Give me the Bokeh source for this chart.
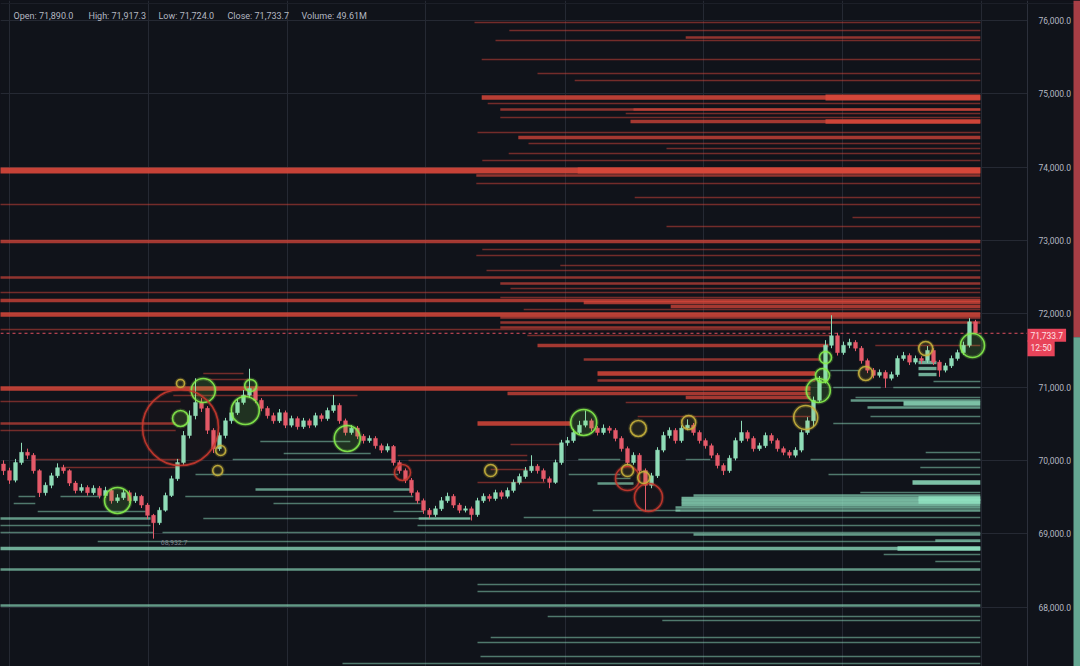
from bokeh.plotting import figure
from bokeh.models import (Range1d, FixedTicker, NumeralTickFormatter, Span, Label,
                          ColumnDataSource, BoxAnnotation, LinearAxis, Grid)
from bokeh.embed import file_html
from bokeh.resources import INLINE

# ---------------- data ----------------
first_open = 69950
closes = [69860, 69730, 69970, 70110, 70070, 69860, 69560, 69660, 69790, 69900,
          69860, 69690, 69590, 69630, 69560, 69620, 69520, 69590, 69450, 69490,
          69560, 69450, 69510, 69390, 69250, 69150, 69320, 69520, 69750, 69970,
          70340, 70610, 70790, 70710, 70410, 70160, 70340, 70540, 70650, 70790,
          70890, 70980, 70820, 70710, 70610, 70540, 70650, 70480, 70570, 70460,
          70540, 70480, 70610, 70570, 70680, 70750, 70540, 70380, 70440, 70330,
          70270, 70300, 70200, 70140, 70190, 69970, 69860, 69730, 69560, 69450,
          69320, 69260, 69340, 69450, 69510, 69390, 69320, 69340, 69260, 69450,
          69510, 69480, 69560, 69510, 69590, 69700, 69780, 69860, 69920, 69860,
          69750, 69700, 69970, 70240, 70270, 70380, 70480, 70540, 70440, 70380,
          70440, 70410, 70300, 70160, 69970, 70070, 69860, 69660, 69790, 70140,
          70340, 70410, 70270, 70440, 70480, 70380, 70270, 70200, 70070, 69930,
          69860, 70030, 70270, 70380, 70300, 70160, 70200, 70340, 70270, 70160,
          70110, 70070, 70140, 70380, 70540, 70820, 71090, 71570, 71700, 71470,
          71570, 71610, 71530, 71360, 71230, 71160, 71200, 71120, 71170, 71390,
          71430, 71340, 71390, 71360, 71500, 71340, 71230, 71290, 71390, 71470,
          71570, 71890, 71733.7]
highs = [70000, 69900, 70020, 70240, 70160, 70100, 69880, 69700, 69830, 69960,
         69940, 69880, 69720, 69680, 69660, 69660, 69650, 69640, 69610, 69540,
         69600, 69590, 69560, 69530, 69420, 69270, 69360, 69560, 69790, 70020,
         70400, 70680, 71120, 70850, 70740, 70440, 70380, 70580, 70700, 70840,
         70960, 71250, 71020, 70850, 70740, 70650, 70700, 70680, 70610, 70600,
         70580, 70570, 70650, 70640, 70720, 70890, 70780, 70570, 70480, 70470,
         70360, 70340, 70330, 70230, 70230, 70210, 70000, 69890, 69760, 69590,
         69480, 69350, 69380, 69500, 69560, 69540, 69420, 69380, 69370, 69490,
         69550, 69540, 69600, 69590, 69630, 69740, 69820, 69910, 70070, 69950,
         69890, 69780, 70010, 70280, 70320, 70430, 70540, 70680, 70570, 70470,
         70490, 70470, 70440, 70330, 70190, 70110, 70100, 69890, 69830, 70180,
         70390, 70450, 70440, 70480, 70560, 70510, 70410, 70300, 70230, 70100,
         69960, 70070, 70310, 70540, 70410, 70330, 70240, 70380, 70370, 70300,
         70190, 70140, 70180, 70420, 70590, 70870, 71150, 71640, 71980, 71740,
         71620, 71660, 71640, 71560, 71390, 71260, 71240, 71230, 71210, 71430,
         71480, 71460, 71430, 71420, 71560, 71530, 71370, 71330, 71430, 71510,
         71620, 71940, 71917.3]
lows = [69800, 69680, 69700, 69940, 70020, 69820, 69500, 69520, 69620, 69760,
        69820, 69650, 69550, 69560, 69520, 69530, 69480, 69490, 69410, 69420,
        69460, 69420, 69420, 69350, 69200, 68932.7, 69120, 69300, 69500, 69720,
        69940, 70300, 70560, 70660, 70360, 70100, 70130, 70300, 70500, 70620,
        70760, 70850, 70780, 70670, 70570, 70500, 70510, 70440, 70450, 70420,
        70430, 70440, 70450, 70530, 70540, 70650, 70500, 70340, 70350, 70290,
        70230, 70240, 70160, 70100, 70110, 69930, 69820, 69690, 69520, 69410,
        69270, 69210, 69230, 69310, 69420, 69350, 69280, 69290, 69180, 69230,
        69420, 69440, 69450, 69470, 69480, 69560, 69670, 69750, 69830, 69820,
        69710, 69620, 69680, 69940, 70200, 70240, 70350, 70450, 70400, 70340,
        70350, 70370, 70260, 70120, 69930, 69940, 69820, 69300, 69620, 69760,
        70110, 70300, 70230, 70240, 70410, 70340, 70230, 70160, 70030, 69890,
        69800, 69830, 70000, 70240, 70260, 70120, 70130, 70170, 70230, 70120,
        70070, 70030, 70040, 70110, 70350, 70460, 70790, 71050, 71530, 71430,
        71440, 71530, 71490, 71320, 71190, 71120, 71130, 70990, 71090, 71140,
        71360, 71300, 71310, 71320, 71330, 71300, 71140, 71200, 71260, 71360,
        71440, 71540, 71724.0]

# liquidation levels above price (red): price, start bar, end bar, heat 1-5
red_price = [75973, 75864, 75768, 75727, 75468, 75277, 75182, 74950, 74868, 74786,
             74732, 74677, 74622, 74472, 74404, 74322, 74254, 74186, 74090, 73954,
             73886, 73777, 73586, 73490, 73313, 73190, 72986, 72876, 72795, 72658,
             72590, 72495, 72413, 72345, 72290, 72222, 72181, 72153, 72099, 72058,
             71990, 71949, 71881, 71813, 71785, 71703, 71567, 71567, 71376, 71185,
             71090, 70980, 70912, 70858, 70790, 70599, 70503, 70217, 70067, 69999,
             69876, 69698, 71185, 71103, 70885, 70803, 70503, 70408, 70012, 69903,
             74950, 74622, 73954, 74786]
red_start = [78.5, 84.3, 113.7, 82.0, 79.7, 89.0, 95.2, 79.7, 80.7, 82.8,
             103.7, 82.8, 104.5, 79.0, 85.8, 87.5, 110.5, 84.2, 79.8, -1,
             78.8, 78.8, 105.2, -1, 141.5, 110.5, -1, 79.8, 78.8, 92.8,
             80.5, -1, 82.8, 84.5, -1, 82.8, -1, 96.7, 111.2, 86.7,
             -1, 82.8, 82.8, 82.8, -1, 87.3, 89.0, 145.3, 96.7, 99.0,
             99.0, -1, 84.0, 113.7, 103.7, 105.7, 79.0, 84.5, 65.7, 67.5,
             81.2, 79.0, 33.3, 33.7, 28.3, -1, -1, -1, 5.3, 9.5,
             137.0, 137.0, 95.7, 105.0]
red_end = [162.8] * 43 + [137.8, 137.8, 137.8, 137.5, 162.8, 136.2, 135.3,
           135.3, 134.5, 134.5, 134.5, 134.5, 134.5, 94.5, 92.8, 87.3, 87.3,
           87.3, 90.3, 40.0, 41.2, 59.0, 29.5, 28.7, 28.7, 29.5, 28.7,
           162.8, 162.8, 162.8, 162.8]
red_heat = [1, 1, 2, 1, 1, 1, 1, 4, 1, 2,
            1, 1, 3, 1, 3, 1, 1, 1, 1, 5,
            2, 1, 1, 1, 1, 1, 3, 1, 1, 1,
            1, 2, 2, 1, 1, 1, 3, 3, 3, 1,
            4, 2, 2, 2, 1, 1, 3, 1, 2, 4,
            2, 4, 3, 3, 1, 1, 4, 1, 1, 1,
            1, 1, 1, 1, 1, 1, 2, 1, 1, 1,
            5, 4, 5, 2]

# liquidation levels below price (green)
green_price = [69507, 69507, 69412, 69303, 69207, 69112, 69016, 69016, 68894, 68798,
               68512, 68021, 70258, 70094, 70012, 69807, 69603, 69507, 69412, 69303,
               69207, 69207, 69221, 69112, 68989, 68907, 68798, 68716, 68621, 68307,
               68212, 67871, 67816, 67584, 67516, 67325, 70108, 70012, 70012, 70012,
               69903, 69807, 69807, 69753, 69698, 69685, 69562, 69521, 69480, 69439,
               69398, 69357, 69316, 69480, 69439, 69316, 71226, 70994, 70994, 70858,
               70817, 70776, 70721, 70599, 70503, 71335, 71253, 71171, 71076, 67229]
green_start = [2.5, 9.5, 1.7, 5.7, -1, -1, -1, 26.5, 15.7, -1,
               -1, -1, 42.8, 46.7, 38.2, 32.0, 42.0, 30.3, 45.0, 65.0,
               33.3, 69.2, 86.7, 69.0, 115.0, 155.3, 149.0, 146.7, 155.3, 79.0,
               79.0, 90.7, 109.8, 81.2, 79.0, 79.5, 153.7, 134.5, 95.8, 113.7,
               152.8, 137.5, 94.2, 102.0, 151.5, 99.0, 142.8, 115.0, 113.0, 113.0,
               113.0, 112.0, 112.0, 152.5, 152.5, 98.2, 137.8, 138.3, 148.3, 142.0,
               141.2, 150.0, 144.0, 144.5, 138.3, 152.5, 152.5, 152.5, 155.0, 56.5]
green_end = [5.3, 16.2, 5.3, 23.7, 24.5, 24.5, 25.0, 162.8, 162.8, 162.8,
             162.8, 162.8, 57.8, 61.2, 65.0, 65.8, 68.3, 68.3, 69.5, 70.0,
             77.8, 77.8, 162.8, 162.8, 162.8, 162.8, 162.8, 162.8, 162.8, 162.8,
             162.8, 162.8, 162.8, 162.8, 162.8, 162.8, 162.8, 162.8, 102.8, 117.8,
             162.8, 162.8, 102.8, 104.5, 162.8, 105.0, 162.8, 162.8, 162.8, 162.8,
             162.8, 162.8, 162.8, 162.8, 162.8, 112.8, 142.8, 146.2, 162.8, 162.8,
             162.8, 162.8, 162.8, 162.8, 162.8, 155.5, 155.5, 155.5, 162.8, 162.8]
green_heat = [1, 1, 1, 1, 2, 1, 1, 1, 1, 3,
              2, 2, 1, 1, 1, 1, 2, 1, 1, 1,
              1, 2, 1, 1, 2, 2, 4, 1, 1, 1,
              1, 1, 1, 1, 1, 1, 1, 1, 1, 1,
              1, 1, 1, 1, 4, 2, 1, 2, 3, 3,
              3, 2, 2, 4, 4, 1, 1, 1, 1, 1,
              2, 4, 2, 1, 1, 3, 3, 3, 1, 1]

# liquidation bubbles: bar, price, bubble size, kind
bubble_bar = [19, 29.5, 33.3, 29.5, 40.3, 41.2, 57.3, 29.5, 36.2, 35.7,
              96.7, 105.8, 114.2, 104, 104, 107.5, 106.7, 66.5, 81.2, 133.7,
              135.8, 136.5, 137, 143.7, 153.7, 161.5]
bubble_price = [69453, 70571, 70953, 71049, 70680, 71021, 70299, 70449, 70135, 69862,
                70517, 70435, 70517, 69753, 69862, 69494, 69767, 69835, 69862, 70585,
                70953, 71158, 71404, 71185, 71526, 71567]
bubble_size = [13, 8, 12, 4, 14, 6, 13, 38, 5, 5,
               13, 8, 7, 12, 6, 14, 6, 8, 6, 12,
               12, 7, 6, 7, 7, 12]
bubble_kind = ["g", "g", "g", "y", "g", "g", "g", "r", "y", "y",
               "g", "y", "y", "r", "y", "r", "y", "r", "y", "y",
               "g", "g", "g", "y", "y", "g"]

price_ticks = [68000, 69000, 70000, 71000, 72000, 73000, 74000, 75000, 76000]
time_ticks = [1.0, 24.2, 47.3, 70.3, 93.7, 116.7, 139.8, 163.0]
last_price = 71733.7
book_split = 71680
header = [("Open: 71,890.0", 13), ("High: 71,917.3", 88), ("Low: 71,724.0", 158),
          ("Close: 71,733.7", 227), ("Volume: 49.61M", 301)]

# ---------------- figure ----------------
BG = "#10131a"
GRID = "#252933"
FONT = "Roboto"
X_LEFT, X_SCALE_EDGE, X_RIGHT = -0.5, 170.67, 179.5
Y_LO, Y_HI = 67188.6, 76272.8

p = figure(width=1080, height=666,
           x_range=Range1d(X_LEFT, X_RIGHT), y_range=Range1d(Y_LO, Y_HI),
           output_backend="svg", toolbar_location=None,
           x_axis_location=None, y_axis_location=None,
           min_border=0, background_fill_color=BG, border_fill_color=BG,
           outline_line_color=None)
for g in p.grid:
    g.visible = False

p.add_layout(Grid(dimension=0, ticker=FixedTicker(ticks=time_ticks), grid_line_color=GRID))
p.add_layout(Grid(dimension=1, ticker=FixedTicker(ticks=price_ticks), grid_line_color=GRID))

# price scale panel (covers grid, sits under the axis)
p.add_layout(BoxAnnotation(left=X_SCALE_EDGE, right=X_RIGHT, fill_color=BG, fill_alpha=1,
                           line_color=None, level="glyph"))

yaxis = LinearAxis(fixed_location=X_SCALE_EDGE, ticker=FixedTicker(ticks=price_ticks),
                   formatter=NumeralTickFormatter(format="0,0.0"))
yaxis.major_label_text_color = "#b4b8c2"
yaxis.major_label_text_font = FONT
yaxis.major_label_text_font_size = "8.5px"
yaxis.major_tick_line_color = None
yaxis.minor_tick_line_color = None
yaxis.axis_line_color = "#2c303b"
yaxis.major_label_standoff = 5
p.add_layout(yaxis, "right")

# header pane border
p.add_layout(Span(location=76232, dimension="width", line_color="#1d2029", line_width=1))

def w_of(h):
    return {1: 1.4, 2: 2.4, 3: 3.4, 4: 4.4, 5: 6.0}[h]

def a_of(h):
    return {1: 0.5, 2: 0.65, 3: 0.75, 4: 0.85, 5: 0.92}[h]

red_src = ColumnDataSource(dict(x0=red_start, x1=red_end, y=red_price,
                                w=[w_of(h) for h in red_heat], a=[a_of(h) for h in red_heat]))
p.segment(x0="x0", x1="x1", y0="y", y1="y", source=red_src, line_color="#d6463a",
          line_width="w", line_alpha="a")

green_src = ColumnDataSource(dict(x0=green_start, x1=green_end, y=green_price,
                                  w=[w_of(h) for h in green_heat], a=[a_of(h) for h in green_heat]))
p.segment(x0="x0", x1="x1", y0="y", y1="y", source=green_src, line_color="#8fe0c0",
          line_width="w", line_alpha="a")

# current price line
p.segment(x0=[X_LEFT], x1=[X_SCALE_EDGE], y0=[last_price], y1=[last_price],
          line_color="#e0505e", line_dash="3 3", line_width=1)

# candles
opens = [first_open] + closes[:-1]
idx = list(range(len(closes)))
ccol = ["#8fdcb8" if c >= o else "#e55a6a" for o, c in zip(opens, closes)]
csrc = ColumnDataSource(dict(x=idx, o=opens, c=closes, h=highs, l=lows,
                             top=[max(o, c) for o, c in zip(opens, closes)],
                             bot=[min(o, c) for o, c in zip(opens, closes)], col=ccol))
p.segment(x0="x", x1="x", y0="l", y1="h", source=csrc, line_color="col", line_width=1)
p.vbar(x="x", width=0.62, top="top", bottom="bot", source=csrc, fill_color="col",
       line_color="col", line_width=0.5)

# bubbles
kcol = {"g": "#86ee4c", "y": "#c8b23c", "r": "#c8392e"}
kfill = {"g": 0.14, "y": 0.1, "r": 0.03}
bsrc = ColumnDataSource(dict(x=bubble_bar, y=bubble_price, s=[2 * b for b in bubble_size],
                             col=[kcol[k] for k in bubble_kind],
                             fa=[kfill[k] for k in bubble_kind]))
p.scatter(x="x", y="y", size="s", source=bsrc, marker="circle", fill_color="col",
          fill_alpha="fa", line_color="col", line_width=4, line_alpha=0.22)
p.scatter(x="x", y="y", size="s", source=bsrc, marker="circle", fill_color=None,
          line_color="col", line_width=1.6, line_alpha=0.9)

# low marker
p.add_layout(Label(x=26.2, y=68880, text="68,932.7", text_font=FONT, text_font_size="7px",
                   text_color="#80848e", text_baseline="middle"))

# side strip (book split near last price)
p.add_layout(BoxAnnotation(left=1073, right=1080, left_units="screen", right_units="screen",
                           bottom=book_split, top=Y_HI, fill_color="#b8444a", fill_alpha=0.9,
                           line_color=None))
p.add_layout(BoxAnnotation(left=1073, right=1080, left_units="screen", right_units="screen",
                           bottom=Y_LO, top=book_split, fill_color="#6fb8a0", fill_alpha=0.9,
                           line_color=None))

# price label on axis
p.add_layout(Label(x=X_SCALE_EDGE, y=last_price, text="71,733.7",
                   text_font=FONT, text_font_size="8.5px", text_color="#ffe3e7",
                   text_baseline="middle", background_fill_color="#e8445a",
                   padding=3, y_offset=-2))
p.add_layout(Label(x=X_SCALE_EDGE, y=last_price, text="12:50",
                   text_font=FONT, text_font_size="8.5px", text_color="#ffe3e7",
                   text_baseline="middle", background_fill_color="#e8445a",
                   padding=3, y_offset=-15))

# header
for t, xx in header:
    p.add_layout(Label(x=xx, y=651, x_units="screen", y_units="screen", text=t,
                       text_font=FONT, text_font_size="9px", text_color="#b4b8c2",
                       text_baseline="middle"))

html = file_html(p, INLINE)
html = html.replace("<head>", "<head><style>body{background:#10131a;}</style>", 1)
open("out.html", "w").write(html)
